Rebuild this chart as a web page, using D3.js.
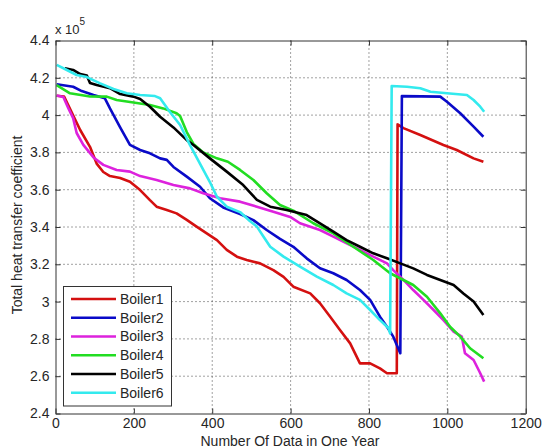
<!DOCTYPE html>
<html>
<head>
<meta charset="utf-8">
<script src="https://cdn.jsdelivr.net/npm/d3@7"></script>
<style>
  body { margin: 0; background: #fff; }
  svg { font-family: "Liberation Sans", Arial, sans-serif; }
</style>
</head>
<body>
<svg id="chart"></svg>
<script>
// Values are in units of 10^5 (the axis multiplier)
const seriesNames = ["Boiler1", "Boiler2", "Boiler3", "Boiler4", "Boiler5", "Boiler6"];
const seriesColors = ["#d41010", "#0a0ac8", "#dd22dd", "#22dd22", "#000000", "#33eaee"];

const boiler1 = [[3,4.104],[22,4.10],[63,3.92],[88,3.83],[105,3.74],[122,3.695],[139,3.673],[165,3.663],
  [190,3.643],[216,3.598],[241,3.544],[258,3.509],[284,3.491],[309,3.473],[335,3.438],[360,3.402],
  [386,3.366],[412,3.330],[437,3.277],[463,3.241],[488,3.223],[522,3.205],[556,3.169],[582,3.133],
  [607,3.080],[650,3.044],[675,2.991],[701,2.919],[726,2.848],[752,2.776],[777,2.669],[803,2.669],
  [828,2.642],[846,2.616],[871,2.616],[873,3.95],[888,3.93],[931,3.893],[990,3.84],[1024,3.813],
  [1067,3.768],[1092,3.75]];

const boiler2 = [[3,4.165],[45,4.152],[67,4.129],[97,4.108],[126,4.09],[139,4.036],[165,3.934],[190,3.84],
  [216,3.813],[241,3.795],[267,3.768],[284,3.76],[301,3.722],[335,3.67],[369,3.616],[394,3.554],
  [428,3.505],[471,3.47],[505,3.437],[539,3.384],[573,3.336],[607,3.294],[641,3.232],[675,3.179],
  [709,3.152],[743,3.116],[777,3.062],[803,3.009],[828,2.919],[846,2.865],[862,2.812],[880,2.723],
  [884,4.102],[982,4.099],[999,4.072],[1033,4.01],[1067,3.938],[1092,3.884]];

const boiler3 = [[3,4.105],[20,4.097],[33,4.036],[45,3.984],[54,3.904],[71,3.84],[97,3.773],[122,3.733],
  [156,3.706],[190,3.697],[216,3.673],[258,3.652],[301,3.625],[343,3.607],[377,3.581],[420,3.554],
  [471,3.536],[514,3.509],[556,3.482],[599,3.454],[624,3.42],[675,3.384],[709,3.348],[743,3.313],
  [777,3.277],[811,3.241],[846,3.205],[862,3.169],[888,3.116],[913,3.062],[939,3.009],[965,2.955],
  [990,2.901],[1016,2.839],[1037,2.812],[1045,2.723],[1067,2.687],[1084,2.616],[1094,2.571]];

const boiler4 = [[3,4.161],[37,4.117],[88,4.10],[131,4.099],[156,4.081],[199,4.068],[241,4.054],[275,4.036],
  [309,4.01],[318,3.995],[335,3.909],[352,3.845],[377,3.80],[412,3.768],[440,3.75],[471,3.706],
  [505,3.652],[539,3.581],[573,3.518],[607,3.488],[658,3.42],[709,3.366],[760,3.294],[811,3.223],
  [854,3.152],[888,3.116],[913,3.089],[948,3.026],[982,2.937],[1007,2.865],[1033,2.812],[1058,2.75],
  [1092,2.696]];

const boiler5 = [[24,4.251],[45,4.242],[63,4.22],[80,4.212],[88,4.172],[105,4.161],[139,4.144],[165,4.113],
  [199,4.099],[216,4.086],[241,4.045],[267,3.991],[301,3.934],[335,3.866],[352,3.84],[394,3.768],
  [437,3.697],[479,3.625],[514,3.545],[548,3.509],[590,3.491],[641,3.464],[675,3.42],[709,3.375],
  [743,3.33],[777,3.294],[811,3.259],[846,3.232],[880,3.205],[913,3.178],[948,3.143],[982,3.116],
  [1016,3.089],[1041,3.044],[1067,3.0],[1092,2.928]];

const boiler6 = [[3,4.269],[29,4.242],[54,4.215],[80,4.204],[114,4.17],[148,4.14],[182,4.117],[216,4.108],
  [254,4.102],[267,4.09],[292,4.017],[318,3.947],[343,3.84],[369,3.738],[394,3.641],[412,3.562],
  [437,3.509],[471,3.48],[496,3.432],[514,3.402],[531,3.348],[548,3.294],[582,3.241],[624,3.187],
  [667,3.134],[709,3.089],[743,3.044],[777,3.009],[803,2.955],[828,2.901],[850,2.857],[854,2.83],
  [858,4.156],[897,4.152],[931,4.144],[957,4.125],[999,4.117],[1050,4.108],[1067,4.081],[1084,4.045],
  [1094,4.018]];

const xTicks = [0, 200, 400, 600, 800, 1000, 1200];
const yTicks = [2.4, 2.6, 2.8, 3, 3.2, 3.4, 3.6, 3.8, 4, 4.2, 4.4];

const allSeries = [boiler1, boiler2, boiler3, boiler4, boiler5, boiler6];

// Chart geometry
const width = 542, height = 448;
const plot = { left: 55.5, top: 40.5, right: 525.7, bottom: 413.5 };

function drawChart() {
  const svg = d3.select("#chart").attr("width", width).attr("height", height);

  const x = d3.scaleLinear().domain([0, 1200]).range([plot.left, plot.right]);
  const y = d3.scaleLinear().domain([2.4, 4.4]).range([plot.bottom, plot.top]);

  drawGrid(svg, x, y);
  drawLines(svg, x, y);
  drawAxes(svg, x, y);
  drawLabels(svg);
  drawLegend(svg);
}

// Dotted grid lines at each tick
function drawGrid(svg, x, y) {
  const g = svg.append("g").attr("stroke", "#444").attr("stroke-width", 1)
    .attr("stroke-dasharray", "1,3");

  g.selectAll(".gx").data(xTicks.slice(1, -1)).enter().append("line")
    .attr("x1", d => x(d)).attr("x2", d => x(d))
    .attr("y1", plot.top).attr("y2", plot.bottom);

  g.selectAll(".gy").data(yTicks.slice(1, -1)).enter().append("line")
    .attr("y1", d => y(d)).attr("y2", d => y(d))
    .attr("x1", plot.left).attr("x2", plot.right);
}

function drawLines(svg, x, y) {
  const line = d3.line().x(d => x(d[0])).y(d => y(d[1]));
  svg.append("g").selectAll("path").data(allSeries).enter().append("path")
    .attr("d", line)
    .attr("fill", "none")
    .attr("stroke", (d, i) => seriesColors[i])
    .attr("stroke-width", 2.6)
    .attr("stroke-linejoin", "round");
}

// Boxed axes with inward ticks on all four sides
function drawAxes(svg, x, y) {
  const tickLen = 5;
  const bottom = svg.append("g").attr("transform", `translate(0,${plot.bottom})`)
    .call(d3.axisBottom(x).tickValues(xTicks).tickSizeInner(-tickLen).tickSizeOuter(0).tickPadding(5)
      .tickFormat(d3.format("d")));
  const top = svg.append("g").attr("transform", `translate(0,${plot.top})`)
    .call(d3.axisTop(x).tickValues(xTicks).tickSizeInner(-tickLen).tickSizeOuter(0).tickFormat(""));
  const left = svg.append("g").attr("transform", `translate(${plot.left},0)`)
    .call(d3.axisLeft(y).tickValues(yTicks).tickSizeInner(-tickLen).tickSizeOuter(0).tickPadding(6)
      .tickFormat(d3.format("~g")));
  const right = svg.append("g").attr("transform", `translate(${plot.right},0)`)
    .call(d3.axisRight(y).tickValues(yTicks).tickSizeInner(-tickLen).tickSizeOuter(0).tickFormat(""));

  [bottom, top, left, right].forEach(a => {
    a.selectAll("path.domain").attr("stroke", "#333");
    a.selectAll(".tick line").attr("stroke", "#333");
    a.selectAll("text").attr("fill", "#262626").style("font-size", "14px")
      .style("font-family", "Liberation Sans, Arial, sans-serif");
  });
}

function drawLabels(svg) {
  svg.append("text")
    .attr("x", 290).attr("y", 446)
    .attr("text-anchor", "middle").attr("fill", "#262626").style("font-size", "14px")
    .text("Number Of Data in One Year");

  svg.append("text")
    .attr("transform", "translate(22,225) rotate(-90)")
    .attr("text-anchor", "middle").attr("fill", "#262626").style("font-size", "14px")
    .text("Total heat transfer coefficient");

  // Exponent label "x 10^5"
  const exp = svg.append("text").attr("x", 55).attr("y", 33.5)
    .attr("fill", "#262626").style("font-size", "13px");
  exp.append("tspan").text("x 10");
  exp.append("tspan").attr("dy", -9).style("font-size", "10px").text("5");
}

function drawLegend(svg) {
  const box = { x: 63.5, y: 286.5, w: 108, h: 119.5 };
  const g = svg.append("g");
  g.append("rect")
    .attr("x", box.x).attr("y", box.y).attr("width", box.w).attr("height", box.h)
    .attr("fill", "#fff").attr("stroke", "#333").attr("stroke-width", 1);

  const rowY = d3.scaleLinear().domain([0, 5]).range([299, 392.7]);
  const rows = g.selectAll(".row").data(seriesNames).enter().append("g")
    .attr("transform", (d, i) => `translate(0,${rowY(i)})`);

  rows.append("line")
    .attr("x1", 71).attr("x2", 116).attr("y1", 0).attr("y2", 0)
    .attr("stroke", (d, i) => seriesColors[i]).attr("stroke-width", 2.6);

  rows.append("text")
    .attr("x", 120).attr("y", 5)
    .attr("fill", "#262626").style("font-size", "14px")
    .text(d => d);
}

drawChart();
</script>
</body>
</html>
